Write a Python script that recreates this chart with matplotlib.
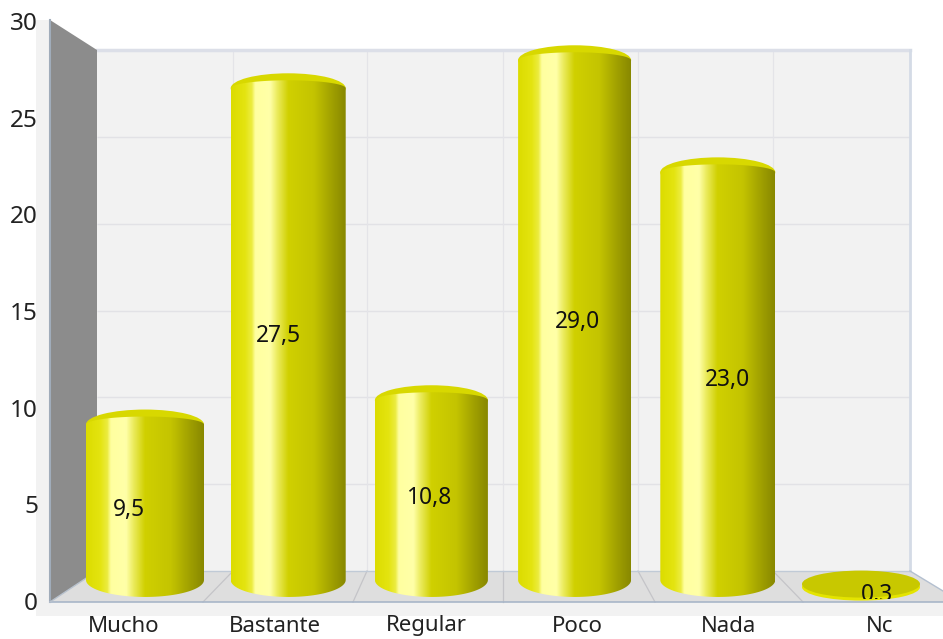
import numpy as np
import matplotlib
matplotlib.use('Agg')
import matplotlib.pyplot as plt
from matplotlib.colors import LinearSegmentedColormap
from matplotlib.patches import Polygon, Ellipse, PathPatch, Rectangle
from matplotlib.path import Path

categories = ['Mucho', 'Bastante', 'Regular', 'Poco', 'Nada', 'Nc']
values = [9.5, 27.5, 10.8, 29.0, 23.0, 0.3]
value_labels = ['9,5', '27,5', '10,8', '29,0', '23,0', '0,3']
y_ticks = [0, 5, 10, 15, 20, 25, 30]

plt.rcParams['font.family'] = ['Noto Sans', 'DejaVu Sans']

W, H = 943, 639
fig = plt.figure(figsize=(W / 100, H / 100), dpi=100)

# background drawn in pixel coords
bg = fig.add_axes([0, 0, 1, 1])
bg.set_xlim(0, W)
bg.set_ylim(H, 0)
bg.axis('off')

bg.add_patch(Rectangle((36, 20), 14, 596, color='#f2f2f2', lw=0))
bg.add_patch(Rectangle((36, 602), 907, 14, color='#f2f2f2', lw=0))
bg.add_patch(Rectangle((97, 50), 813, 521, color='#f2f2f2', lw=0))
bg.add_patch(Polygon([(50, 602), (97, 571), (910, 571), (943, 591), (943, 602)], color='#dedede', lw=0))

for t in y_ticks[1:-1]:
    yb = 571 - t * (521 / 30)
    bg.plot([97, 910], [yb, yb], color='#e2e2e6', lw=1, solid_capstyle='butt')
for xb, xf in zip([233, 367, 503, 638, 773], [203, 353, 503, 655, 803]):
    bg.plot([xb, xb], [50, 571], color='#e4e4e8', lw=0.9)
    bg.plot([xb, xf], [571, 602], color='#c4c4c8', lw=0.9)

bg.add_patch(Polygon([(50, 20), (97, 50), (97, 571), (50, 602)], color='#8c8c8c', lw=0, zorder=3))
bg.plot([97, 910], [50, 50], color='#dcdfe8', lw=2.5)
bg.plot([910, 910], [50, 571], color='#d4dbe6', lw=2)
bg.plot([97, 910], [571, 571], color='#c0cad6', lw=1)
bg.plot([910, 943], [571, 591], color='#b4c0d0', lw=1)
bg.plot([50, 50], [20, 602], color='#a0acba', lw=1.5, zorder=4)
bg.plot([50, 943], [602, 602], color='#a8b6c8', lw=1.2, zorder=4)
bg.plot([50, 97], [602, 571], color='#b8c2ce', lw=1, zorder=4)

for t in y_ticks:
    bg.text(38, 604 - t * (580 / 30), str(t), ha='right', va='center', fontsize=17.5, color='#222222')

# data axes, category index on x and value on y
PX_PER_UNIT = 18.68
CAT_PX = 143.2
ax = fig.add_axes([0, 0, 1, 1])
ax.patch.set_alpha(0)
ax.axis('off')

body_cmap = LinearSegmentedColormap.from_list('cyl', [
    (0.0, '#dcdc00'), (0.12, '#e4e410'), (0.18, '#ecec40'), (0.21, '#ffffa0'), (0.34, '#ffffa8'),
    (0.40, '#ecec60'), (0.50, '#d0d000'), (0.72, '#c4c400'), (0.88, '#a0a000'), (1.0, '#888800')])
grad = np.linspace(0, 1, 256).reshape(1, -1)

half_widths = [59, 57.5, 56.5, 56.5, 57.5, 59]
BASE = 1.18  # centre of the bottom ellipse, in value units
DISC_Y = 0.96


def half_ellipse(cx, cy, rx, ry, start, stop):
    t = np.linspace(start, stop, 60)
    return np.column_stack([cx + rx * np.cos(t), cy + ry * np.sin(t)])


for i, v in enumerate(values):
    rx = half_widths[i] / CAT_PX
    if v < BASE:
        # flat disc
        ry_d = 13.5 / PX_PER_UNIT
        thick = 3 / PX_PER_UNIT
        ax.add_patch(Ellipse((i, DISC_Y - thick), 2 * rx, 2 * ry_d, color='#e4e400', lw=0))
        ax.add_patch(Ellipse((i, DISC_Y), 2 * rx, 2 * ry_d, color='#c8c800', lw=0))
        continue
    cap_ry = 15 / PX_PER_UNIT
    top_ry = 8 / PX_PER_UNIT
    bot_ry = 17 / PX_PER_UNIT
    ax.add_patch(Ellipse((i, v), 2 * rx, 2 * cap_ry, color='#d8d800', lw=0))
    top = half_ellipse(i, v, rx, top_ry, np.pi, 0)
    bottom = half_ellipse(i, BASE, rx, bot_ry, 0, -np.pi)
    pts = np.vstack([top, bottom, top[:1]])
    clip = PathPatch(Path(pts), transform=ax.transData, facecolor='none', edgecolor='none')
    ax.add_patch(clip)
    im = ax.imshow(grad, cmap=body_cmap, aspect='auto', zorder=2,
                   extent=[i - rx, i + rx, BASE - bot_ry, v + top_ry])
    im.set_clip_path(clip)

ax.set_xlim(-145 / CAT_PX, (W - 145) / CAT_PX)
ax.set_ylim((602 - H) / PX_PER_UNIT, 602 / PX_PER_UNIT)

# value labels sit on the front plane, so they spread a bit more than the bars
clip_box = Rectangle((0, 0), W, 599, transform=bg.transData, facecolor='none', edgecolor='none')
bg.add_patch(clip_box)
for i, (v, lab) in enumerate(zip(values, value_labels)):
    lx = 2.5 + (i - 2.5) * 1.0447
    ly = max(v / 2 * 1.035, 0.35)
    txt = ax.text(lx, ly, lab, ha='center', va='center', fontsize=16.4, color='#111111', zorder=5)
    txt.set_clip_path(clip_box)
    txt.set_clip_on(True)

for i, name in enumerate(categories):
    ax.text(2.49 + (i - 2.5) * 1.056, (602 - 626) / PX_PER_UNIT, name, ha='center', va='center',
            fontsize=16, color='#222222')

fig.savefig('out.png', dpi=100)
